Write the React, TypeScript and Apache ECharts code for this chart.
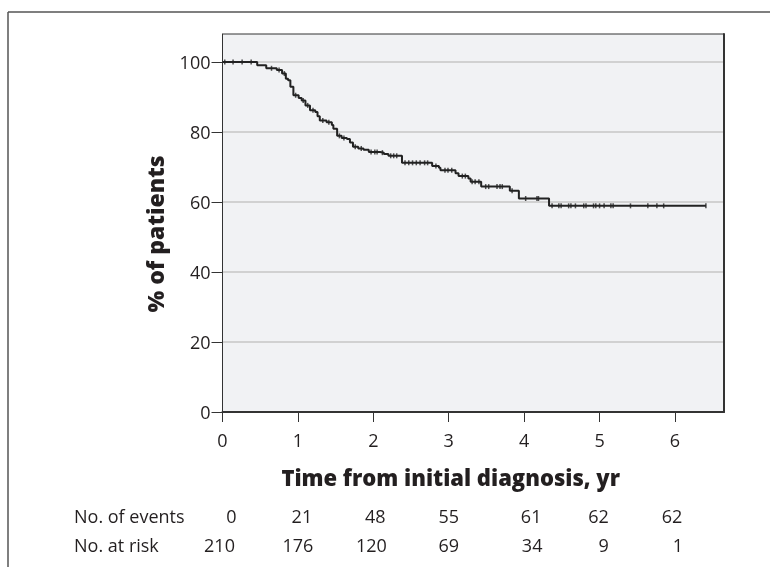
import React, { useEffect, useRef } from 'react';
import * as echarts from 'echarts';

// Kaplan-Meier step curve: time (years) at which survival drops, and value from that time onward (%)
const stepTimes = [0, 0.46, 0.58, 0.72, 0.79, 0.84, 0.87, 0.90, 0.94, 1.01, 1.05, 1.10, 1.16, 1.23, 1.26, 1.29, 1.38, 1.45, 1.47, 1.52, 1.58, 1.65, 1.69, 1.73, 1.80, 1.87, 1.94, 2.09, 2.14, 2.20, 2.38, 2.78, 2.87, 2.89, 3.09, 3.13, 3.26, 3.29, 3.43, 3.81, 3.93, 4.33, 6.41];
const stepSurvival = [100, 99.1, 98.2, 97.7, 96.7, 95.2, 94.8, 92.9, 90.5, 89.7, 89.0, 87.6, 86.2, 85.7, 84.5, 83.3, 82.8, 82.0, 80.9, 78.9, 78.3, 78.0, 77.0, 75.8, 75.3, 74.9, 74.3, 74.1, 73.7, 73.2, 71.2, 70.3, 69.8, 69.1, 68.2, 67.4, 66.7, 65.8, 64.4, 63.2, 61.0, 58.9, 58.9];

// censored observations (years)
const censorTimes = [0.03, 0.14, 0.26, 0.38, 0.65, 0.75, 0.82, 0.97, 1.07, 1.13, 1.20, 1.33, 1.41, 1.55, 1.61, 1.76, 1.84, 1.97, 2.02, 2.05, 2.12, 2.23, 2.27, 2.31, 2.42, 2.47, 2.52, 2.57, 2.62, 2.68, 2.72, 2.83, 2.95, 2.99, 3.04, 3.18, 3.22, 3.31, 3.35, 3.40, 3.49, 3.53, 3.64, 3.68, 3.71, 3.84, 4.02, 4.17, 4.19, 4.37, 4.46, 4.49, 4.59, 4.62, 4.68, 4.79, 4.82, 4.92, 4.95, 5.0, 5.06, 5.15, 5.18, 5.41, 5.64, 5.76, 5.85, 6.41];

const xTicks = [0, 1, 2, 3, 4, 5, 6];
const yTicks = [0, 20, 40, 60, 80, 100];
const eventsRow = ['0', '21', '48', '55', '61', '62', '62'];
const atRiskRow = ['210', '176', '120', '69', '34', '9', '1'];

// layout only (pixel nudges of table cells relative to tick positions)
const eventsNudge = [9, 4, 2, 0, 7, -1, -3];
const riskNudge = [-3, 0, -2, 0, 8, 4, 3];

function survivalAt(t: number): number {
  let v = stepSurvival[0];
  for (let i = 0; i < stepTimes.length; i++) {
    if (stepTimes[i] <= t) v = stepSurvival[i];
  }
  return v;
}

const FONT = 'Open Sans';
const TXT = '#231f20';

export default function App() {
  const ref = useRef<HTMLDivElement>(null);
  useEffect(() => {
    if (!ref.current) return;
    const chart = echarts.init(ref.current, undefined, { renderer: 'svg' });
    const option: any = {
      animation: false,
      grid: {
        left: 222.5, right: 46, top: 34, bottom: 155,
        show: true, backgroundColor: '#f1f2f4', borderColor: '#333', borderWidth: 1,
      },
      xAxis: {
        type: 'value', min: 0, max: 6.65, interval: 1,
        axisLine: { show: true, onZero: false, lineStyle: { color: '#333', width: 2 } },
        axisTick: { show: true, length: 10, customValues: xTicks, lineStyle: { color: '#333', width: 1 } },
        axisLabel: { customValues: xTicks, margin: 19, fontFamily: FONT, fontSize: 18, color: TXT },
        splitLine: { show: false },
      },
      yAxis: [
        {
          type: 'value', min: 0, max: 108, interval: 20,
          axisLine: { show: true, lineStyle: { color: '#333', width: 1 } },
          axisTick: { show: true, length: 11, customValues: yTicks, lineStyle: { color: '#333', width: 1 } },
          axisLabel: { customValues: yTicks, margin: 12, fontFamily: FONT, fontSize: 18, color: TXT },
          splitLine: { show: true, lineStyle: { color: '#c6c6c6', width: 1.5 } },
        },
        {
          type: 'value', min: 0, max: 108, position: 'right',
          axisLine: { show: true, lineStyle: { color: '#333', width: 2 } },
          axisTick: { show: false }, axisLabel: { show: false }, splitLine: { show: false },
        },
      ],
      series: [
        {
          type: 'line', step: 'end', symbol: 'none',
          data: stepTimes.map((t, i) => [t, stepSurvival[i]]),
          lineStyle: { color: '#222', width: 2 },
          z: 3,
        },
        {
          type: 'scatter', symbol: 'rect', symbolSize: [1.5, 5],
          data: censorTimes.map((t) => [t, survivalAt(t)]),
          itemStyle: { color: '#222' },
          z: 4,
        },
      ],
    };
    chart.setOption(option);

    const px = (t: number) => chart.convertToPixel({ xAxisIndex: 0 }, t) as number;
    const graphics: any[] = [
      { type: 'line', shape: { x1: 8, y1: 12, x2: 770, y2: 12 }, style: { stroke: '#555', lineWidth: 1.5 } },
      { type: 'line', shape: { x1: 8, y1: 12, x2: 8, y2: 567 }, style: { stroke: '#555', lineWidth: 1.5 } },
      {
        type: 'text', x: (px(0) + px(6)) / 2 + 2, y: 477,
        style: { text: 'Time from initial diagnosis, yr', fontFamily: FONT, fontWeight: 800, fontSize: 22, fill: TXT, align: 'center', verticalAlign: 'middle' },
      },
      {
        type: 'text', x: 155, y: 234, rotation: Math.PI / 2,
        style: { text: '% of patients', fontFamily: FONT, fontWeight: 800, fontSize: 23, fill: TXT, align: 'center', verticalAlign: 'middle' },
      },
      { type: 'text', x: 74, y: 516, style: { text: 'No. of events', fontFamily: FONT, fontSize: 18, fill: TXT, align: 'left', verticalAlign: 'middle' } },
      { type: 'text', x: 74, y: 545, style: { text: 'No. at risk', fontFamily: FONT, fontSize: 18, fill: TXT, align: 'left', verticalAlign: 'middle' } },
    ];
    xTicks.forEach((yr, i) => {
      graphics.push({ type: 'text', x: px(yr) + eventsNudge[i], y: 516, style: { text: eventsRow[i], fontFamily: FONT, fontSize: 18, fill: TXT, align: 'center', verticalAlign: 'middle' } });
      graphics.push({ type: 'text', x: px(yr) + riskNudge[i], y: 545, style: { text: atRiskRow[i], fontFamily: FONT, fontSize: 18, fill: TXT, align: 'center', verticalAlign: 'middle' } });
    });
    chart.setOption({ graphic: graphics });
    return () => chart.dispose();
  }, []);
  return <div ref={ref} style={{ position: 'fixed', left: 0, top: 0, width: 770, height: 567 }} />;
}
